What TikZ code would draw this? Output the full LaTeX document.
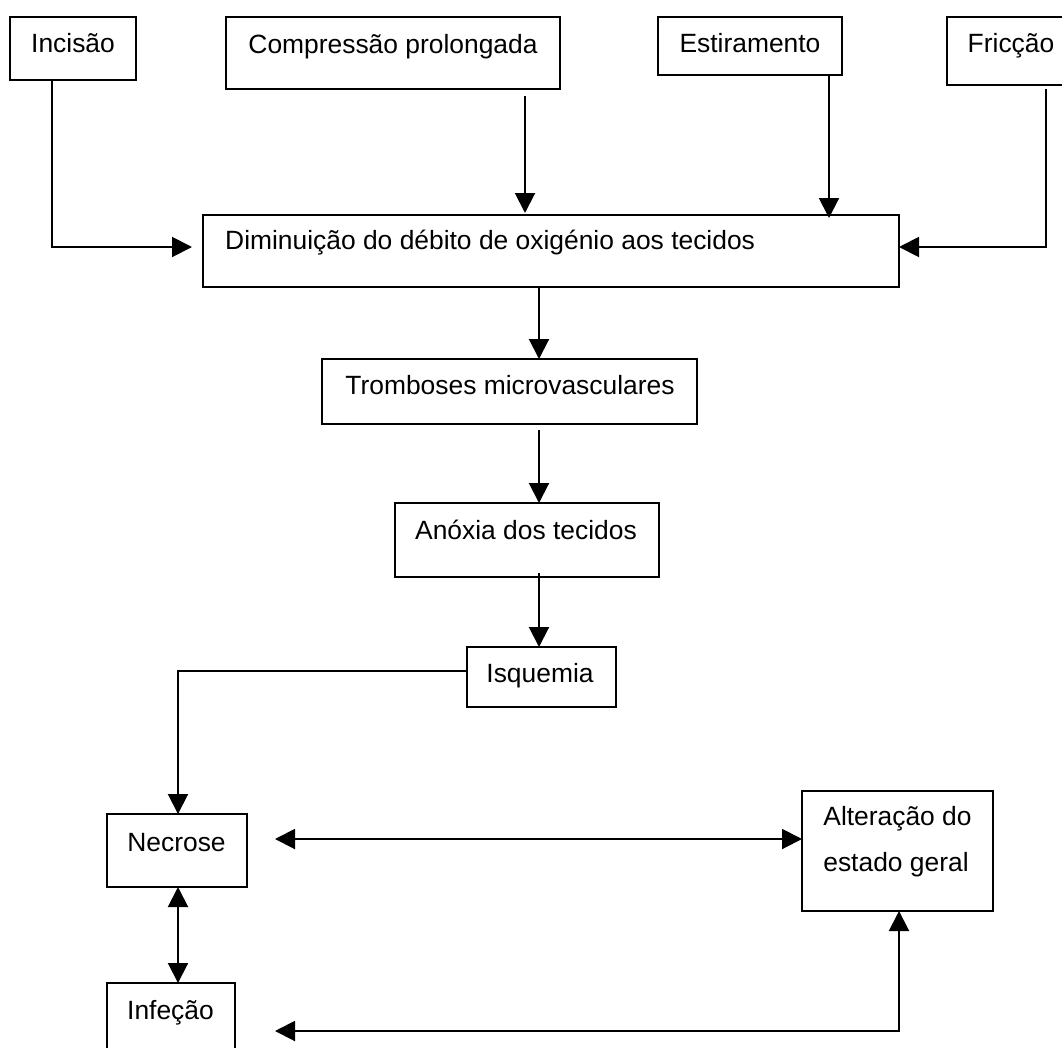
\documentclass[tikz,border=0pt]{standalone}
\usepackage{fontspec}
\setmainfont{Liberation Sans}
\usetikzlibrary{arrows.meta}
\begin{document}
\begin{tikzpicture}[x=1pt,y=-1pt,
  box/.style={draw, line width=2pt, inner sep=0pt, outer sep=0pt, anchor=north west},
  txt/.style={anchor=base, inner sep=0pt, font=\fontsize{26.4}{32}\selectfont},
  conn/.style={line width=2pt},
  arr/.style={conn, -{Triangle[length=20pt,width=20pt]}},
  darr/.style={conn, {Triangle[length=20pt,width=20pt]}-{Triangle[length=20pt,width=20pt]}}]
\useasboundingbox (0,0) rectangle (1062,1047);
\clip (0,0) rectangle (1062,1047);
% boxes
\node[box, minimum width=126pt, minimum height=63pt] (inc) at (10,17) {};
\node[box, minimum width=334pt, minimum height=72pt] (comp) at (226,17) {};
\node[box, minimum width=184pt, minimum height=58pt] (est) at (658,17) {};
\node[box, minimum width=129pt, minimum height=68pt] (fric) at (947,17) {};
\node[box, minimum width=696pt, minimum height=72pt] (dim) at (203,215) {};
\node[box, minimum width=375pt, minimum height=65pt] (trom) at (322,359) {};
\node[box, minimum width=264pt, minimum height=74pt] (anox) at (395,503) {};
\node[box, minimum width=149pt, minimum height=60pt] (isq) at (467,647) {};
\node[box, minimum width=140pt, minimum height=73pt] (nec) at (107,814) {};
\node[box, minimum width=128pt, minimum height=73pt] (inf) at (107,983) {};
\node[box, minimum width=191pt, minimum height=120pt] (alt) at (802,791) {};
% texts
\node[txt] (inc-t) at (73,52) {Incisão};
\node[txt] (comp-t) at (393,53) {Compressão prolongada};
\node[txt] (est-t) at (750,52) {Estiramento};
\node[txt] (fric-t) at (1011,52) {Fricção};
\node[txt, anchor=base west] (dim-t) at (225,249) {Diminuição do débito de oxigénio aos tecidos};
\node[txt] (trom-t) at (510,394) {Tromboses microvasculares};
\node[txt] (anox-t) at (526,539) {Anóxia dos tecidos};
\node[txt] (isq-t) at (540,682) {Isquemia};
\node[txt] (nec-t) at (176.5,851) {Necrose};
\node[txt] (inf-t) at (170.5,1019) {Infeção};
\node[txt] (alt-t1) at (897.5,825) {Alteração do};
\node[txt] (alt-t2) at (896,871) {estado geral};
% connectors
\coordinate (k1) at (52,247);
\draw[arr, shorten >=11pt] (k1 |- inc.south) -- (k1) -- (k1 -| dim.west);
\coordinate (k2) at (525,0);
\draw[arr, shorten <=7pt, shorten >=2pt] (k2 |- comp.south) -- (k2 |- dim.north);
\coordinate (k3) at (829,0);
\draw[arr, shorten >=-3pt] (k3 |- est.south) -- (k3 |- dim.north);
\coordinate (k4) at (1046,247);
\draw[arr, shorten <=4pt] (k4 |- fric.south) -- (k4) -- (k4 -| dim.east);
\coordinate (k5) at (539,0);
\draw[arr] (k5 |- dim.south) -- (k5 |- trom.north);
\draw[arr, shorten <=6pt] (k5 |- trom.south) -- (k5 |- anox.north);
\draw[arr, shorten <=-4pt] (k5 |- anox.south) -- (k5 |- isq.north);
\coordinate (k6) at (178,671);
\draw[arr] (k6 -| isq.west) -- (k6) -- (k6 |- nec.north);
\draw[darr] (k6 |- nec.south) -- (k6 |- inf.north);
\coordinate (k7) at (0,839);
\draw[darr, shorten <=28pt] (k7 -| nec.east) -- (k7 -| alt.west);
\coordinate (k8) at (899,1031);
\draw[darr, shorten <=40pt] (k8 -| inf.east) -- (k8) -- (k8 |- alt.south);
\end{tikzpicture}
\end{document}
